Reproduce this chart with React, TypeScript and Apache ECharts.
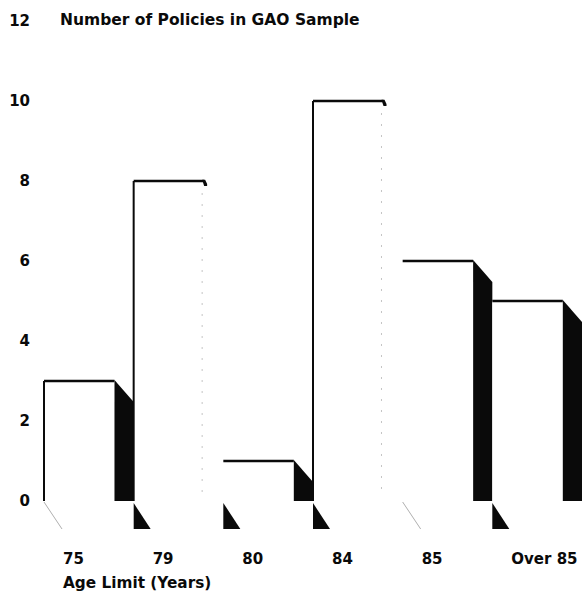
import React, { useEffect, useRef } from "react";
import * as echarts from "echarts";

// ---- data ----
const categories = ["75", "79", "80", "84", "85", "Over 85"];
const policyCounts = [3, 8, 1, 10, 6, 5];
const yMin = 0;
const yMax = 12;
const yInterval = 2;
const titleText = "Number of Policies in GAO Sample";
const xAxisTitle = "Age Limit (Years)";

// ---- styling (per bar, as printed in the scanned original) ----
const solidSide = [true, false, true, false, true, true];
const solidFloor = [false, true, true, true, false, true];
const leftEdge = [true, true, false, true, false, false];

const FONT = "'DejaVu Sans', 'Liberation Sans', Arial, sans-serif";
const INK = "#0a0a0a";

export default function App() {
  const ref = useRef<HTMLDivElement>(null);

  useEffect(() => {
    if (!ref.current) return;
    const chart = echarts.init(ref.current, undefined, { renderer: "svg" });

    const renderItem = (params: any, api: any) => {
      const i = api.value(0);
      const v = api.value(1);
      const pt = api.coord([i, v]);
      const cx = pt[0];
      const top = pt[1];
      const base = api.coord([i, 0])[1];
      const bw = api.size([1, 0])[0];
      const start = cx - bw / 2;
      const end = start + bw;
      const frontR = start + bw * 0.786;
      const depthY = (end - frontR) * 1.1;
      const children: any[] = [];

      children.push({
        type: "rect",
        shape: { x: start, y: top, width: frontR - start, height: base - top },
        style: { fill: "#ffffff" },
      });
      children.push({
        type: "line",
        shape: { x1: start, y1: top, x2: frontR, y2: top },
        style: { stroke: INK, lineWidth: 2.5 },
      });
      if (leftEdge[i]) {
        children.push({
          type: "line",
          shape: { x1: start, y1: top, x2: start, y2: base },
          style: { stroke: INK, lineWidth: 2 },
        });
      }
      if (solidSide[i]) {
        children.push({
          type: "polygon",
          shape: {
            points: [
              [frontR, top - 1],
              [end, top + depthY],
              [end, base],
              [frontR, base],
            ],
          },
          style: { fill: INK },
        });
      } else {
        children.push({
          type: "polygon",
          shape: {
            points: [
              [frontR - 2, top - 1.2],
              [frontR + 1, top - 1.2],
              [frontR + 3, top + 3],
              [frontR + 3, top + 5],
              [frontR, top + 5],
            ],
          },
          style: { fill: INK },
        });
        children.push({
          type: "line",
          shape: { x1: frontR - 2, y1: top + 12, x2: frontR - 2, y2: base - 6 },
          style: { stroke: "#c4c4c4", lineWidth: 1, lineDash: [2, 9] },
        });
      }
      if (solidFloor[i]) {
        children.push({
          type: "polygon",
          shape: {
            points: [
              [start, base + 2],
              [start, base + 28],
              [start + 17, base + 28],
            ],
          },
          style: { fill: INK },
        });
      } else {
        children.push({
          type: "line",
          shape: { x1: start, y1: base + 1, x2: start + 18, y2: base + 28 },
          style: { stroke: "#9a9a9a", lineWidth: 0.8 },
        });
      }
      children.push({
        type: "text",
        x: start + 19,
        y: base + 58,
        style: {
          text: categories[i],
          fill: INK,
          fontSize: 15,
          fontFamily: FONT,
          fontWeight: "bold",
          align: "left",
          verticalAlign: "middle",
        },
      });
      return { type: "group", children };
    };

    chart.setOption({
      animation: false,
      backgroundColor: "#ffffff",
      grid: { left: 44, top: 21, bottom: 97, width: 542 },
      xAxis: {
        type: "category",
        data: categories,
        boundaryGap: true,
        axisLine: { show: false },
        axisTick: { show: false },
        axisLabel: { show: false },
        splitLine: { show: false },
      },
      yAxis: {
        type: "value",
        min: yMin,
        max: yMax,
        interval: yInterval,
        axisLine: { show: false },
        axisTick: { show: false },
        splitLine: { show: false },
        axisLabel: {
          margin: 14,
          color: INK,
          fontSize: 15,
          fontFamily: FONT,
          fontWeight: "bold",
        },
      },
      graphic: [
        {
          type: "text",
          left: 60,
          top: 12,
          style: {
            text: titleText,
            fill: INK,
            fontSize: 15.5,
            fontFamily: FONT,
            fontWeight: "bold",
          },
        },
        {
          type: "text",
          left: 63,
          top: 575,
          style: {
            text: xAxisTitle,
            fill: INK,
            fontSize: 15.3,
            fontFamily: FONT,
            fontWeight: "bold",
          },
        },
      ],
      series: [
        {
          type: "custom",
          silent: true,
          clip: false,
          renderItem,
          data: policyCounts.map((v, i) => [i, v]),
        },
      ],
    });

    return () => chart.dispose();
  }, []);

  return (
    <div
      ref={ref}
      style={{ position: "absolute", left: 0, top: 0, width: 582, height: 598 }}
    />
  );
}
